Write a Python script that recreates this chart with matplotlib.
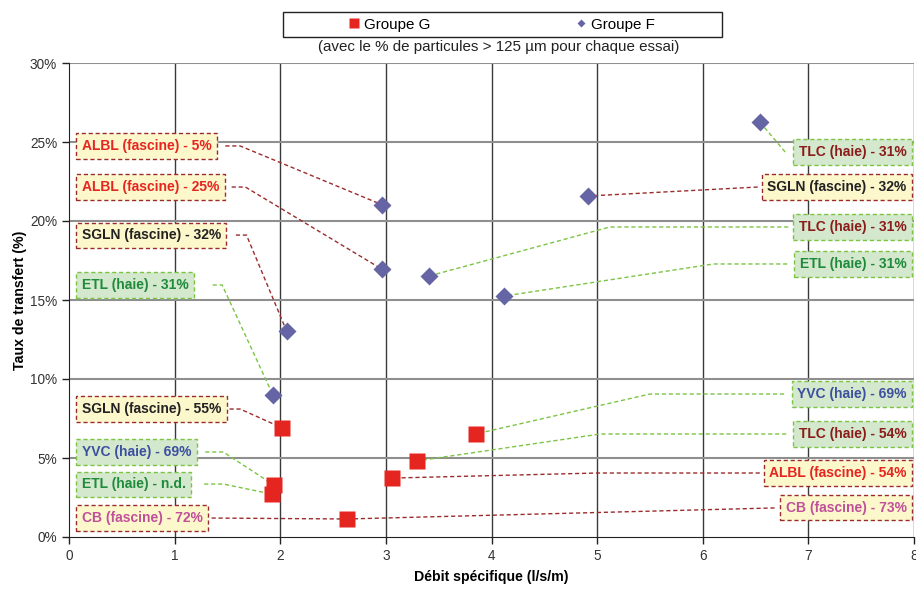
import matplotlib
matplotlib.use("Agg")
import matplotlib.pyplot as plt
from matplotlib.lines import Line2D
from matplotlib.patches import Rectangle

plt.rcParams['font.family'] = ['Liberation Sans', 'DejaVu Sans']

# data (debit specifique l/s/m, taux de transfert %)
groupe_f_x = [1.93, 2.06, 2.96, 2.96, 3.41, 4.12, 4.91, 6.54]
groupe_f_y = [9.0, 13.04, 16.96, 21.04, 16.52, 15.25, 21.58, 26.27]
groupe_g_x = [2.02, 1.94, 1.92, 2.63, 3.06, 3.29, 3.85]
groupe_g_y = [6.9, 3.29, 2.72, 1.14, 3.73, 4.81, 6.52]

# labels: text, type d'ouvrage, couleur du texte, groupe, indice du point
label_texts = ["ALBL (fascine) - 5%", "ALBL (fascine) - 25%", "SGLN (fascine) - 32%",
               "ETL (haie) - 31%", "SGLN (fascine) - 55%", "YVC (haie) - 69%",
               "ETL (haie) - n.d.", "CB (fascine) - 72%",
               "TLC (haie) - 31%", "SGLN (fascine) - 32%", "TLC (haie) - 31%",
               "ETL (haie) - 31%", "YVC (haie) - 69%", "TLC (haie) - 54%",
               "ALBL (fascine) - 54%", "CB (fascine) - 73%"]
label_kind = ["fascine", "fascine", "fascine", "haie", "fascine", "haie", "haie", "fascine",
              "haie", "fascine", "haie", "haie", "haie", "haie", "fascine", "fascine"]
label_color = ["red", "red", "black", "green", "black", "blue", "green", "magenta",
               "darkred", "black", "darkred", "green", "blue", "darkred", "red", "magenta"]
label_group = ["F", "F", "F", "F", "G", "G", "G", "G",
               "F", "F", "F", "F", "G", "G", "G", "G"]
label_point = [3, 2, 1, 0, 0, 1, 2, 3,
               7, 6, 4, 5, 6, 5, 4, 3]

# mise en page des etiquettes: cote, y, debut du trait, coude
label_side = ["left"] * 8 + ["right"] * 8
label_y = [24.75, 22.15, 19.11, 15.95, 8.10, 5.38, 3.35, 1.20,
           24.37, 22.15, 19.62, 17.28, 9.05, 6.52, 4.05, 1.84]
leader_start = [1.48, 1.54, 1.58, 1.36, 1.52, 1.29, 1.28, 1.35,
                6.78, 6.52, 6.81, 6.80, 6.77, 6.79, 6.54, 6.68]
leader_elbow = [1.62, 1.67, 1.68, 1.45, 1.62, 1.46, 1.46, None,
                None, None, 5.12, 6.10, 5.50, 5.03, 5.0, None]

text_colors = {"red": "#e52620", "black": "#222222", "green": "#1f8a3c",
               "blue": "#3d4f9f", "magenta": "#c0509a", "darkred": "#8b1c1c"}
box_fill = {"fascine": "#fdf7cc", "haie": "#d3e8cc"}
box_edge = {"fascine": "#9b2c2c", "haie": "#7cc444"}

fig = plt.figure(figsize=(9.16, 5.97), dpi=100)
ax = fig.add_axes([69 / 916, 1 - 537 / 597, 845 / 916, 474 / 597])

ax.set_xlim(0, 8)
ax.set_ylim(0, 30)
ax.set_xticks(range(0, 9))
ax.set_yticks(range(0, 31, 5))
ax.set_yticklabels(["%d%%" % v for v in range(0, 31, 5)])
ax.tick_params(labelsize=9.8, labelcolor="#333333", length=5, width=1, color="#222222")
ax.tick_params(axis="x", pad=4)
for s in ["top", "right"]:
    ax.spines[s].set_visible(False)
for s in ["left", "bottom"]:
    ax.spines[s].set_color("#222222")

# grille
for v in range(1, 9):
    ax.axvline(v, color="#3a3a3a", lw=1.0, zorder=0)
for v in range(5, 31, 5):
    ax.axhline(v, color="#8f8f8f", lw=1.5, zorder=0)

ax.set_xlabel("Débit spécifique (l/s/m)", fontsize=10.2, fontweight="bold", labelpad=5)
ax.set_ylabel("Taux de transfert (%)", fontsize=10.2, fontweight="bold", labelpad=2)

# traits de rappel et etiquettes
for i in range(len(label_texts)):
    if label_group[i] == "F":
        px, py = groupe_f_x[label_point[i]], groupe_f_y[label_point[i]]
    else:
        px, py = groupe_g_x[label_point[i]], groupe_g_y[label_point[i]]
    xs = [leader_start[i]]
    ys = [label_y[i]]
    if leader_elbow[i] is not None:
        xs.append(leader_elbow[i])
        ys.append(label_y[i])
    xs.append(px)
    ys.append(py)
    ax.plot(xs, ys, color=box_edge[label_kind[i]], lw=1, ls=(0, (3, 2)), zorder=2)

    if label_side[i] == "left":
        tx, ha = 0.12, "left"
    else:
        tx, ha = 7.93, "right"
    ax.text(tx, label_y[i], label_texts[i], ha=ha, va="center", fontsize=10,
            fontweight="bold", color=text_colors[label_color[i]], zorder=5,
            bbox=dict(boxstyle="square,pad=0.4", fc=box_fill[label_kind[i]],
                      ec=box_edge[label_kind[i]], lw=1, ls=(0, (3, 2))),
            clip_on=False)

ax.plot(groupe_g_x, groupe_g_y, ls="none", marker="s", ms=11.5, color="#e52620",
        mec="none", zorder=4)
ax.plot(groupe_f_x, groupe_f_y, ls="none", marker="D", ms=9, color="#6565a6",
        mec="none", zorder=4)

# legende
fig.add_artist(Rectangle((283 / 916, 1 - 37 / 597), 439 / 916, 25 / 597,
                         transform=fig.transFigure, fill=False, ec="#222222", lw=1))
h_g = Line2D([], [], ls="none", marker="s", ms=6.8, color="#e52620", mec="none")
h_f = Line2D([], [], ls="none", marker="D", ms=4.2, color="#6565a6", mec="none")
fig.legend([h_g, h_f], ["Groupe G", "Groupe F"], ncol=2, loc="center",
           bbox_to_anchor=(502 / 916, 1 - 24.5 / 597), frameon=False,
           fontsize=10.9, handlelength=0.7, handletextpad=0.3, columnspacing=9.6)
fig.text(499 / 916, 1 - 47 / 597, "(avec le % de particules > 125 µm pour chaque essai)",
         ha="center", va="center", fontsize=10.9, color="#222222")

fig.savefig("out.png", dpi=100)
